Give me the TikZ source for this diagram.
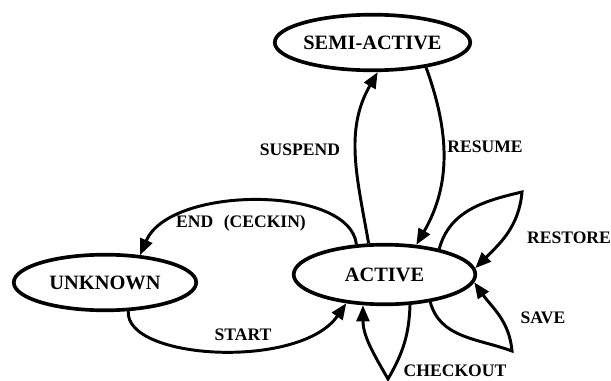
\documentclass[tikz,border=0pt]{standalone}
\usepackage{fontspec}
\setmainfont{Liberation Serif}
\usetikzlibrary{shapes.geometric,arrows.meta}
\begin{document}
\begin{tikzpicture}[x=0.025cm,y=-0.025cm,
  statenode/.style={draw, ellipse, line width=2.6pt, inner sep=0pt, font=\fontsize{14.5}{16}\selectfont\bfseries},
  lbl/.style={font=\fontsize{12.5}{14}\selectfont\bfseries},
  trans/.style={line width=2.1pt, -{Triangle[length=0.4cm,width=0.32cm]}}]
\useasboundingbox (0,0) rectangle (611,381);
\node[statenode, minimum width=3.89cm, minimum height=1.39cm] (semi) at (372.5,42.5){SEMI-ACTIVE};
\node[statenode, minimum width=4.54cm, minimum height=1.49cm] (active) at (384.5,274.5){ACTIVE};
\node[statenode, minimum width=4.56cm, minimum height=1.39cm] (unknown) at (105,282.5){UNKNOWN};
\coordinate (ckbot) at (388,379);
\coordinate (svcorner) at (512,351);
\coordinate (rscorner) at (522,192);
\draw[trans](active.117) to[out=100, in=240] (semi.280);
\draw[trans](semi.335) to[out=-70, in=60] (active.43);
\draw[trans](active.133) .. controls (350,185) and (170,185) .. (unknown.38);
\draw[trans](unknown.309) .. controls (125,360) and (300,370) .. (active.217);
\draw[trans](active.310) to[out=-92, in=60] (ckbot) to[out=120, in=-90] (active.235);
\draw[trans](active.329) to[out=-75, in=160] (svcorner) to[out=95, in=-55] (active.-5);
\draw[trans](active.25) to[out=75, in=193] (rscorner) to[out=-95, in=45] (active.4);
\node[lbl] (lsuspend) at (300,150){SUSPEND};
\node[lbl] (lresume) at (485,147){RESUME};
\node[lbl] (lend) at (241,223){END\hspace{0.6em}(CECKIN)};
\node[lbl] (lstart) at (243,335){START};
\node[lbl] (lrestore) at (569,238){RESTORE};
\node[lbl] (lsave) at (543,318){SAVE};
\node[lbl] (lcheckout) at (455,371){CHECKOUT};

\end{tikzpicture}
\end{document}
